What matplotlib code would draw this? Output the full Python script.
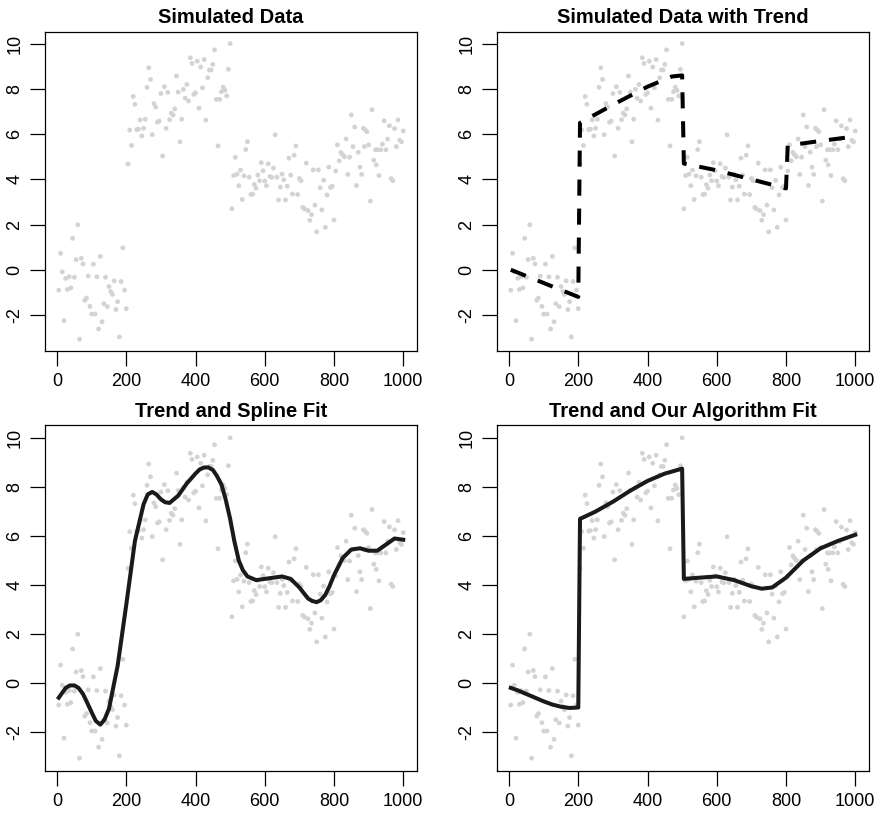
import numpy as np
import matplotlib
matplotlib.use("Agg")
import matplotlib.pyplot as plt

plt.rcParams['font.family'] = ['Liberation Sans', 'DejaVu Sans']

# ---- simulated observations, one block per regime ----
x_seg1 = [5, 10, 15, 20, 25, 30, 35, 40, 45, 50, 55, 60, 65, 70, 75, 80, 85, 90, 95, 100,
          105, 110, 115, 120, 125, 130, 135, 140, 145, 150, 155, 160, 165, 170, 175, 180,
          185, 190, 195, 200]
y_seg1 = [-0.9, 0.73, -0.09, -2.25, -0.38, -0.87, -0.31, -0.8, 1.39, -0.33, 0.45, 1.99,
          -3.07, 0.51, 0.26, -1.35, -1.25, -0.28, -1.62, -1.96, 0.25, -1.96, -0.31, -2.62,
          0.59, -2.3, -1.5, -0.33, -1.63, -0.74, -0.96, -1.09, -0.49, -1.76, -1.41, -2.97,
          -0.52, 0.97, -0.9, -1.72]

x_seg2 = [205, 210, 215, 220, 225, 230, 235, 240, 245, 250, 255, 260, 265, 270, 275, 280,
          285, 290, 295, 300, 305, 310, 315, 320, 325, 330, 335, 340, 345, 350, 355, 360,
          365, 370, 375, 380, 385, 390, 395, 400, 405, 410, 415, 420, 425, 430, 435, 440,
          445, 450, 455, 460, 465, 470, 475, 480, 485, 490, 495, 500]
y_seg2 = [4.68, 6.18, 5.5, 7.67, 7.32, 6.2, 6.22, 6.63, 5.92, 6.26, 6.66, 8.07, 8.94, 8.42,
          5.98, 7.35, 7.2, 6.53, 6.58, 7.8, 5.03, 8.1, 6.26, 7.85, 6.64, 6.93, 6.85, 7.12,
          8.57, 7.86, 5.66, 6.66, 7.98, 7.59, 8.2, 7.47, 9.38, 9.13, 7.76, 7.83, 9.23, 7.15,
          8.97, 8.05, 9.3, 6.62, 8.5, 8.84, 8.84, 9.09, 9.73, 7.54, 5.48, 7.54, 7.88, 8.08,
          7.94, 7.69, 8.87, 10.01]

x_seg3 = [505, 510, 515, 520, 525, 530, 535, 540, 545, 550, 555, 560, 565, 570, 575, 580,
          585, 590, 595, 600, 605, 610, 615, 620, 625, 630, 635, 640, 645, 650, 655, 660,
          665, 670, 675, 680, 685, 690, 695, 700, 705, 710, 715, 720, 725, 730, 735, 740,
          745, 750, 755, 760, 765, 770, 775, 780, 785, 790, 795, 800]
y_seg3 = [2.7, 4.17, 4.98, 4.23, 3.72, 4.41, 3.11, 4.16, 5.32, 5.67, 4.1, 3.33, 3.35, 3.77,
          3.61, 4.19, 3.94, 4.74, 4.38, 3.93, 3.72, 4.69, 4.13, 4.09, 4.5, 5.97, 4.1, 3.09,
          3.66, 4.23, 3.98, 3.09, 3.7, 4.94, 4.19, 3.35, 5.07, 5.48, 3.33, 4.04, 3.94, 2.76,
          2.69, 4.72, 2.62, 2.19, 2.44, 4.42, 2.86, 1.68, 4.42, 3.63, 2.65, 3.96, 1.88, 3.31,
          4.54, 3.64, 3.7, 2.2]

x_seg4 = [805, 810, 815, 820, 825, 830, 835, 840, 845, 850, 855, 860, 865, 870, 875, 880,
          885, 888, 890, 895, 900, 905, 910, 915, 920, 922, 925, 930, 935, 940, 945, 950,
          955, 960, 965, 970, 975, 980, 985, 990, 995, 1000]
y_seg4 = [4.37, 5.53, 4.82, 5.19, 5.09, 5.0, 5.79, 4.22, 4.98, 6.85, 5.45, 6.32, 3.73, 5.2,
          4.54, 4.22, 6.26, 5.45, 6.19, 6.11, 5.53, 3.04, 7.08, 4.85, 5.31, 4.64, 5.31, 4.17,
          5.31, 5.56, 6.59, 5.31, 5.78, 6.37, 4.03, 3.94, 6.25, 5.45, 6.63, 5.73, 5.66, 6.14]

# ---- underlying piecewise trend ----
trend_x = [5, 200, 205, 300, 400, 470, 500, 505, 600, 700, 800, 805, 900, 1000]
trend_y = [0.0, -1.2, 6.5, 7.3, 8.1, 8.55, 8.6, 4.7, 4.4, 4.0, 3.6, 5.5, 5.7, 5.9]

# ---- smoothing spline fit ----
spline_x = [5, 25, 37, 50, 62, 75, 87, 100, 112, 125, 137, 150, 175, 200, 225, 250, 262,
            275, 287, 300, 312, 325, 350, 375, 400, 412, 425, 437, 450, 462, 475, 487, 500,
            512, 525, 537, 550, 575, 600, 625, 650, 675, 700, 725, 737, 750, 762, 775, 787,
            800, 825, 850, 875, 900, 925, 950, 975, 1000]
spline_y = [-0.6, -0.2, -0.1, -0.1, -0.2, -0.45, -0.8, -1.2, -1.55, -1.7, -1.5, -1.05, 0.7,
            3.2, 5.8, 7.3, 7.7, 7.8, 7.7, 7.5, 7.38, 7.35, 7.65, 8.15, 8.55, 8.72, 8.8, 8.8,
            8.7, 8.45, 8.1, 7.5, 6.7, 5.8, 5.0, 4.6, 4.35, 4.2, 4.25, 4.3, 4.35, 4.25, 3.9,
            3.45, 3.35, 3.3, 3.38, 3.6, 3.95, 4.4, 5.1, 5.45, 5.5, 5.4, 5.4, 5.65, 5.9, 5.85]

# ---- change-point algorithm fit ----
algo_x = [5, 25, 50, 75, 100, 125, 150, 175, 200, 205, 250, 300, 350, 400, 450, 500,
          505, 550, 600, 650, 700, 730, 760, 800, 850, 900, 950, 1000]
algo_y = [-0.2, -0.3, -0.45, -0.6, -0.75, -0.88, -0.97, -1.02, -1.0, 6.7, 7.0, 7.4, 7.85,
          8.25, 8.55, 8.75, 4.25, 4.3, 4.35, 4.2, 3.95, 3.85, 3.9, 4.3, 5.0, 5.5, 5.8, 6.05]

titles = ["Simulated Data", "Simulated Data with Trend",
          "Trend and Spline Fit", "Trend and Our Algorithm Fit"]
x_ticks = [0, 200, 400, 600, 800, 1000]
y_ticks = [-2, 0, 2, 4, 6, 8, 10]

x_obs = np.concatenate([x_seg1, x_seg2, x_seg3, x_seg4])
y_obs = np.concatenate([y_seg1, y_seg2, y_seg3, y_seg4])


def padded(v):
    lo, hi = float(np.min(v)), float(np.max(v))
    r = hi - lo
    return lo - 0.04 * r, hi + 0.04 * r


W, H = 875, 817
fig = plt.figure(figsize=(W / 100, H / 100), dpi=100)

# panel frames in pixels: left, top, right, bottom
frames = [(45, 31.7, 417, 351), (497, 31.7, 869, 351),
          (45, 425, 417, 771), (497, 425, 869, 771)]

axes = []
for (l, t, r, b), title in zip(frames, titles):
    ax = fig.add_axes([l / W, 1 - b / H, (r - l) / W, (b - t) / H])
    ax.scatter(x_obs, y_obs, s=12, color="#d3d3d3", edgecolors="none", zorder=1)
    ax.set_xlim(*padded(x_obs))
    ax.set_ylim(*padded(y_obs))
    ax.set_xticks(x_ticks)
    ax.set_yticks(y_ticks)
    ax.set_yticklabels([str(v) for v in y_ticks], rotation=90, va="center")
    ax.tick_params(axis="both", direction="out", length=10.5, width=0.9,
                   labelsize=13, color="black")
    ax.tick_params(axis="x", pad=5)
    ax.tick_params(axis="y", pad=5)
    for sp in ax.spines.values():
        sp.set_linewidth(0.9)
    ax.set_title(title, fontsize=14.5, fontweight="bold", pad=6)
    axes.append(ax)

axes[1].plot(trend_x, trend_y, color="black", lw=2.9, dashes=(4, 3.2),
             solid_capstyle="butt", zorder=2)
axes[2].plot(spline_x, spline_y, color="#1a1a1a", lw=2.9, zorder=2,
             solid_joinstyle="round")
axes[3].plot(algo_x, algo_y, color="#1a1a1a", lw=2.9, zorder=2,
             solid_joinstyle="round")

fig.savefig("out.png", dpi=100, facecolor="white")
